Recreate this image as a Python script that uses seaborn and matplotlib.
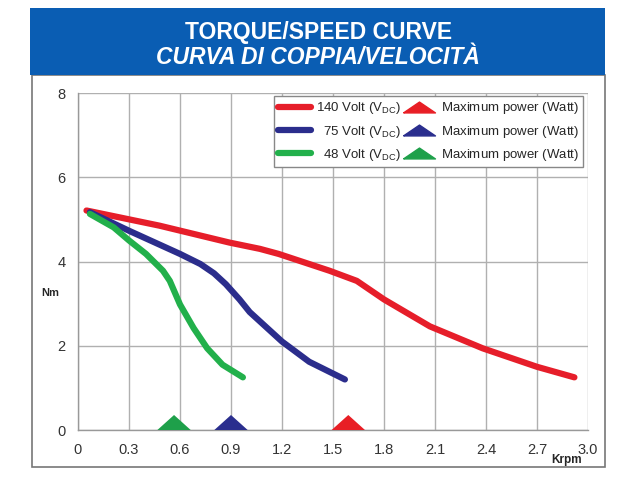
import seaborn as sns
import pandas as pd
import matplotlib.pyplot as plt
from matplotlib.patches import Rectangle
from matplotlib.lines import Line2D

# torque / speed readings (Krpm, Nm)
rpm_140 = [0.05, 0.48, 0.89, 1.07, 1.18, 1.48, 1.64, 1.80, 2.07, 2.38, 2.70, 2.92]
nm_140 = [5.21, 4.85, 4.45, 4.30, 4.18, 3.78, 3.54, 3.10, 2.46, 1.94, 1.50, 1.25]
rpm_75 = [0.07, 0.30, 0.60, 0.72, 0.80, 0.87, 0.95, 1.01, 1.20, 1.36, 1.57]
nm_75 = [5.17, 4.73, 4.18, 3.94, 3.72, 3.46, 3.10, 2.80, 2.10, 1.62, 1.20]
rpm_48 = [0.07, 0.21, 0.30, 0.40, 0.50, 0.54, 0.60, 0.68, 0.76, 0.85, 0.97]
nm_48 = [5.13, 4.81, 4.50, 4.18, 3.78, 3.54, 2.98, 2.42, 1.94, 1.55, 1.25]

# maximum power points
maxpow_rpm = [1.59, 0.90, 0.565]
maxpow_nm = [0, 0, 0]

series_labels = ["140 Volt (V$_{\\mathrm{DC}}$)", "  75 Volt (V$_{\\mathrm{DC}}$)", "  48 Volt (V$_{\\mathrm{DC}}$)"]
maxpow_label = "Maximum power (Watt)$_{\\,}$"
x_ticks = [0, 0.3, 0.6, 0.9, 1.2, 1.5, 1.8, 2.1, 2.4, 2.7, 3.0]
x_ticklabels = ["0", "0.3", "0.6", "0.9", "1.2", "1.5", "1.8", "2.1", "2.4", "2.7", "3.0"]
y_ticks = [0, 2, 4, 6, 8]

line_colors = ["#e61e2a", "#2b2d8c", "#22b04b"]
tri_colors = ["#e81e25", "#2a2e8e", "#1ea04a"]

sns.set_style("whitegrid")
plt.rcParams['font.family'] = ['Liberation Sans', 'DejaVu Sans']
plt.rcParams['mathtext.fontset'] = 'custom'
plt.rcParams['mathtext.rm'] = 'Liberation Sans'

fig = plt.figure(figsize=(6.4, 4.8), dpi=100)
fig.patch.set_facecolor("white")

# frame + title band
fig.patches.append(Rectangle((32/640, 1-467/480), 573/640, 392/480, transform=fig.transFigure,
                             facecolor="white", edgecolor="#777777", lw=1.2, zorder=-2))
fig.patches.append(Rectangle((30/640, 1-75/480), 575/640, 67/480, transform=fig.transFigure,
                             facecolor="#0a5db3", edgecolor="none", zorder=-1))
fig.text(0.497, 0.933, "TORQUE/SPEED CURVE", color="white", fontsize=16.5, fontweight="bold",
         ha="center", va="center")
fig.text(0.496, 0.881, "CURVA DI COPPIA/VELOCITÀ", color="white", fontsize=16.5, fontweight="bold",
         style="italic", ha="center", va="center")

ax = fig.add_axes([78/640, 1-430/480, 510/640, 337/480])
ax.set_zorder(2)
ax.set_facecolor("white")

curves = [(rpm_140, nm_140), (rpm_75, nm_75), (rpm_48, nm_48)]
for (xs, ys), c in zip(curves, line_colors):
    df = pd.DataFrame({"rpm": xs, "nm": ys})
    sns.lineplot(data=df, x="rpm", y="nm", sort=False, color=c, lw=4.5, ax=ax,
                 solid_capstyle="round", solid_joinstyle="round", zorder=3)

tri_marker = [(-1, 0), (1, 0), (0, 0.9), (-1, 0)]
df_mp = pd.DataFrame({"rpm": maxpow_rpm, "nm": maxpow_nm, "v": ["140", "75", "48"]})
sns.scatterplot(data=df_mp, x="rpm", y="nm", hue="v", palette=tri_colors, marker=tri_marker,
                s=24**2, linewidth=0, ax=ax, legend=False, clip_on=False, zorder=4)

ax.set_xlim(0, 3.0)
ax.set_ylim(0, 8)
ax.set_xticks(x_ticks)
ax.set_xticklabels(x_ticklabels)
ax.set_yticks(y_ticks)
ax.grid(True, color="#b0b0b0", lw=1)
for s in ["top", "right"]:
    ax.spines[s].set_visible(False)
for s in ["left", "bottom"]:
    ax.spines[s].set_color("#999999")
    ax.spines[s].set_linewidth(1)
ax.tick_params(axis="both", length=5, width=1, color="#999999", labelsize=10.5,
               labelcolor="#333333", pad=4)

ax.set_ylabel("Nm", rotation=0, fontsize=8, fontweight="bold", ha="center", va="center")
ax.yaxis.set_label_coords(-0.055, 0.407)
ax.set_xlabel("Krpm", fontsize=8.5, fontweight="bold", ha="center", va="center")
ax.xaxis.set_label_coords(0.958, -0.09)

leg_tri = [(-1, -0.34), (1, -0.34), (0, 0.34), (-1, -0.34)]
handles = [Line2D([], [], color=c, lw=4.5, solid_capstyle="round") for c in line_colors]
handles += [Line2D([], [], color=c, lw=0, marker=leg_tri, ms=23) for c in tri_colors]
labels = series_labels + [maxpow_label] * 3
leg = ax.legend(handles, labels, ncol=2, loc="upper right", bbox_to_anchor=(0.99, 0.99),
                fontsize=9.5, frameon=True, fancybox=False, framealpha=1, edgecolor="#888888",
                handlelength=2.5, handletextpad=0.4, columnspacing=0.1, labelspacing=0.55,
                borderpad=0.3, borderaxespad=0)
leg.get_frame().set_linewidth(1)
leg.set_zorder(5)

plt.savefig("out.png", dpi=100)
